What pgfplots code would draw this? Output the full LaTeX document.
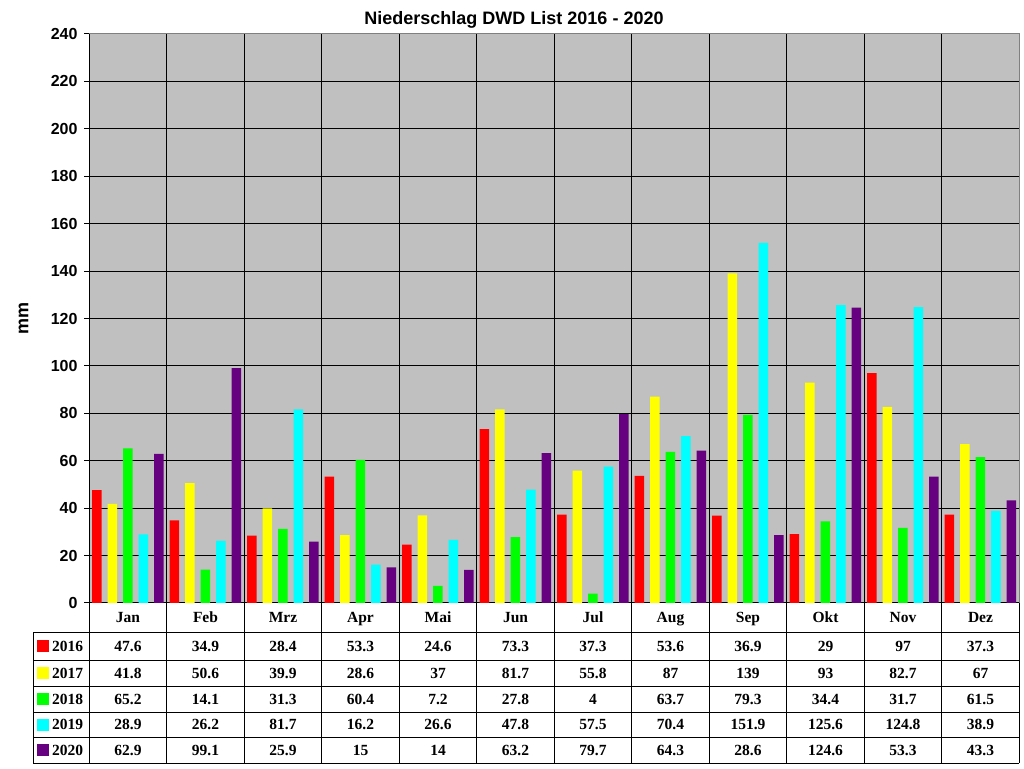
\documentclass[border=0pt]{standalone}
\usepackage{fontspec}
\setmainfont{Liberation Sans}
\newfontfamily\tnr{Liberation Serif}
\usepackage{pgfplots}
\usepackage{pgfplotstable}
\pgfplotsset{compat=1.18}

\definecolor{c16}{RGB}{255,0,0}
\definecolor{c17}{RGB}{255,255,0}
\definecolor{c18}{RGB}{0,255,0}
\definecolor{c19}{RGB}{0,255,255}
\definecolor{c20}{RGB}{102,0,128}
\definecolor{plotbg}{RGB}{192,192,192}
\definecolor{frame}{RGB}{128,128,128}

% monthly precipitation in mm
\pgfplotstableread{
x m y2016 y2017 y2018 y2019 y2020
0 Jan 47.6 41.8 65.2 28.9 62.9
1 Feb 34.9 50.6 14.1 26.2 99.1
2 Mrz 28.4 39.9 31.3 81.7 25.9
3 Apr 53.3 28.6 60.4 16.2 15
4 Mai 24.6 37 7.2 26.6 14
5 Jun 73.3 81.7 27.8 47.8 63.2
6 Jul 37.3 55.8 4 57.5 79.7
7 Aug 53.6 87 63.7 70.4 64.3
8 Sep 36.9 139 79.3 151.9 28.6
9 Okt 29 93 34.4 125.6 124.6
10 Nov 97 82.7 31.7 124.8 53.3
11 Dez 37.3 67 61.5 38.9 43.3
}\data

\tikzset{cell/.style={anchor=base, inner sep=0pt, font=\tnr\bfseries\fontsize{15.5}{17}\selectfont}}

\begin{document}
\begin{tikzpicture}
\path[use as bounding box] (0,0) rectangle (1024pt,768pt);

\begin{axis}[
    at={(89pt,165pt)}, anchor=south west,
    scale only axis, width=930pt, height=569pt,
    xmin=-0.5, xmax=11.5, ymin=0, ymax=240,
    ytick={0,20,...,240},
    xtick={-0.5,0.5,...,11.5}, xticklabels={},
    axis x line*=bottom, axis y line*=left,
    xmajorgrids, ymajorgrids,
    grid style={black, line width=1pt},
    axis line style={black, line width=1pt},
    axis background/.style={fill=plotbg},
    tick align=outside,
    x tick style={draw=none},
    y tick style={black, line width=1pt},
    major tick length=5pt,
    yticklabel style={font=\fontsize{16}{18}\selectfont\bfseries, xshift=-3pt},
    /pgf/number format/assume math mode=true,
    ylabel={mm},
    every axis y label/.style={at={(axis description cs:0,0.5)}, xshift=-65.5pt,
        rotate=90, anchor=center, font=\fontsize{18}{20}\selectfont\bfseries},
    clip=false,
]
\addplot[ybar, bar width=9.5pt, bar shift=-31pt, fill=c16, draw=none] table[x=x, y=y2016]{\data};
\addplot[ybar, bar width=9.5pt, bar shift=-15.5pt, fill=c17, draw=none] table[x=x, y=y2017]{\data};
\addplot[ybar, bar width=9.5pt, bar shift=0pt, fill=c18, draw=none] table[x=x, y=y2018]{\data};
\addplot[ybar, bar width=9.5pt, bar shift=15.5pt, fill=c19, draw=none] table[x=x, y=y2019]{\data};
\addplot[ybar, bar width=9.5pt, bar shift=31pt, fill=c20, draw=none] table[x=x, y=y2020]{\data};
\end{axis}

% grey frame on top and right
\draw[frame, line width=1pt] (89pt,734pt) -- (1019pt,734pt) -- (1019pt,165pt);

% title
\node[font=\fontsize{18}{21}\selectfont\bfseries] at (514pt,748pt) {Niederschlag DWD List 2016 - 2020};

% data table grid
\foreach \k in {0,...,12}
    \draw[black, line width=1pt] ({89pt+77.5pt*\k},165pt) -- ({89pt+77.5pt*\k},5pt);
\foreach \yy in {136,108,82,56,31,5}
    \draw[black, line width=1pt] (33pt,\yy pt) -- (1019pt,\yy pt);
\draw[black, line width=1pt] (33pt,136pt) -- (33pt,5pt);

% month names
\foreach \i in {0,...,11} {
    \pgfplotstablegetelem{\i}{m}\of\data
    \node[cell] at ({128pt+77.5pt*\i},145.3pt) {\pgfplotsretval};
}

% value rows with legend keys
\foreach \col/\yy/\c/\lab in {y2016/122/c16/2016, y2017/95/c17/2017, y2018/69/c18/2018, y2019/43.5/c19/2019, y2020/18/c20/2020} {
    \fill[\c] (37pt,{\yy*1pt-6pt}) rectangle (49pt,{\yy*1pt+6pt});
    \node[cell, anchor=base west] at (52pt,{\yy*1pt-5.2pt}) {\lab};
    \foreach \i in {0,...,11} {
        \pgfplotstablegetelem{\i}{\col}\of\data
        \node[cell] at ({128pt+77.5pt*\i},{\yy*1pt-5.2pt}) {\pgfplotsretval};
    }
}
\end{tikzpicture}
\end{document}
